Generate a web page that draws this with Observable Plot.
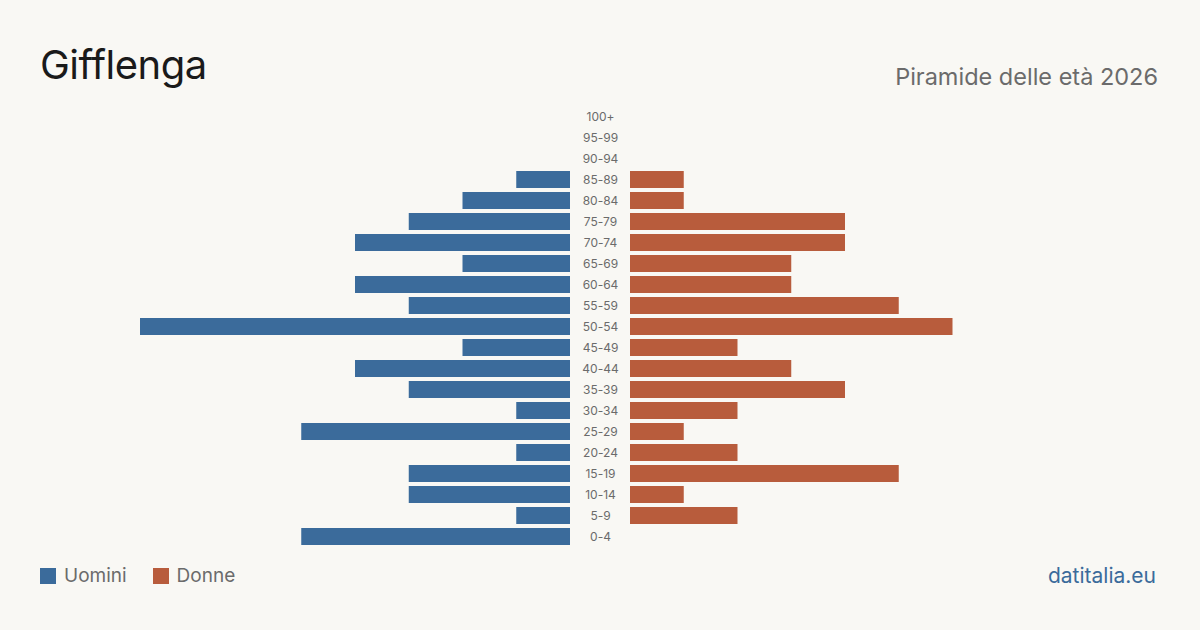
<!DOCTYPE html>
<html>
<head>
<meta charset="utf-8">
<script src="https://cdn.jsdelivr.net/npm/d3@7"></script>
<script src="https://cdn.jsdelivr.net/npm/@observablehq/plot@0.6"></script>
<style>
  html, body { margin: 0; padding: 0; background: #f9f8f4; }
  body { width: 1200px; height: 630px; position: relative; overflow: hidden; font-family: Inter, "Noto Sans", sans-serif; font-variant-ligatures: none; }
  #title { position: absolute; left: 40px; top: 45px; font-size: 40px; color: #1a1a1a; font-weight: 400; letter-spacing: -0.5px; line-height: 1; }
  #subtitle { position: absolute; right: 42px; top: 65px; font-size: 23.5px; color: #6b6b6b; line-height: 1; }
  #chart { position: absolute; left: 0; top: 0; }
  #legend { position: absolute; left: 40px; top: 566px; font-size: 19px; color: #6b6b6b; display: flex; align-items: center; line-height: 20px; }
  #legend .sw { width: 16px; height: 16px; display: inline-block; margin-right: 8px; }
  #legend .item { display: flex; align-items: center; margin-right: 26px; }
  #source { position: absolute; right: 44px; top: 566px; font-size: 21px; color: #3b6b9b; line-height: 20px; }
</style>
</head>
<body>
<div id="chart"></div>
<div id="title">Gifflenga</div>
<div id="subtitle">Piramide delle età 2026</div>
<div id="legend">
  <span class="item"><span class="sw" style="background:#3b6b9b"></span>Uomini</span>
  <span class="item"><span class="sw" style="background:#b85c3c"></span>Donne</span>
</div>
<div id="source">datitalia.eu</div>
<script>
const ages = ["100+","95-99","90-94","85-89","80-84","75-79","70-74","65-69","60-64","55-59","50-54","45-49","40-44","35-39","30-34","25-29","20-24","15-19","10-14","5-9","0-4"];
const uomini = [0,0,0,1,2,3,4,2,4,3,8,2,4,3,1,5,1,3,3,1,5];
const donne  = [0,0,0,1,1,4,4,3,3,5,6,2,3,4,2,1,2,5,1,2,0];

const men = ages.map((a, i) => ({age: a, v: -uomini[i]}));
const women = ages.map((a, i) => ({age: a, v: donne[i]}));

const chart = Plot.plot({
  width: 1200,
  height: 630,
  marginTop: 105.5,
  marginBottom: 83.5,
  marginLeft: 170,
  marginRight: 170,
  style: { background: "transparent", fontFamily: "Inter, 'Noto Sans', sans-serif" },
  x: { domain: [-8, 8], axis: null },
  y: { domain: ages, axis: null, padding: 0 },
  marks: [
    Plot.barX(men.filter(d => d.v !== 0), { x1: 0, x2: "v", y: "age", fill: "#3b6b9b", dx: -30, insetTop: 2, insetBottom: 2 }),
    Plot.barX(women.filter(d => d.v !== 0), { x1: 0, x2: "v", y: "age", fill: "#b85c3c", dx: 30, insetTop: 2, insetBottom: 2 }),
    Plot.text(ages, { x: () => 0, y: d => d, text: d => d, fill: "#6b6b6b", fontSize: 12, textAnchor: "middle" })
  ]
});
document.getElementById("chart").appendChild(chart);
</script>
</body>
</html>
